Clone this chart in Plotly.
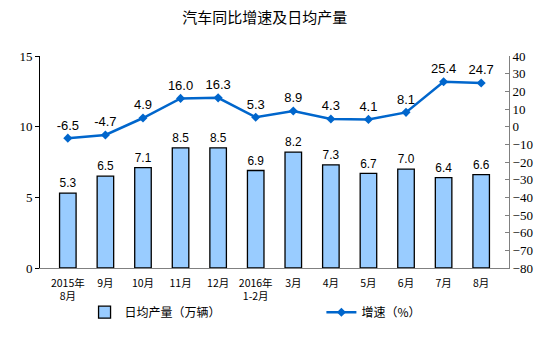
import plotly.graph_objects as go

# Monthly data: Aug 2015 – Aug 2016
months = ["2015年<br>8月", "9月", "10月", "11月", "12月", "2016年<br>1-2月",
          "3月", "4月", "5月", "6月", "7月", "8月"]
daily_output = [5.3, 6.5, 7.1, 8.5, 8.5, 6.9, 8.2, 7.3, 6.7, 7.0, 6.4, 6.6]   # 万辆
growth_rate = [-6.5, -4.7, 4.9, 16.0, 16.3, 5.3, 8.9, 4.3, 4.1, 8.1, 25.4, 24.7]  # %

left_ticks = [0, 5, 10, 15]
right_ticks = list(range(-80, 41, 10))

label_font = dict(family="Liberation Sans, Arial, sans-serif", size=13, color="#000000")
cjk = "Noto Sans CJK SC, sans-serif"
serif = "Liberation Serif, Times New Roman, serif"
legend_font = dict(family=cjk, size=12, color="#000000")

fig = go.Figure()

fig.add_trace(go.Bar(
    x=months, y=daily_output, name="日均产量（万辆）", legend="legend",
    marker=dict(color="#99CCFF", line=dict(color="#000000", width=1.3)),
    text=[f"{v:.1f}" for v in daily_output], textposition="outside",
    textfont=label_font, cliponaxis=False,
))

fig.add_trace(go.Scatter(
    x=months, y=growth_rate, name="增速（%）", yaxis="y2", legend="legend2",
    mode="lines+markers+text",
    line=dict(color="#0066CC", width=2.5),
    marker=dict(symbol="diamond", size=7, color="#0066CC"),
    text=[f"{v:.1f}" for v in growth_rate], textposition="top center",
    textfont=label_font, cliponaxis=False,
))

fig.update_layout(
    width=554, height=345,
    margin=dict(l=40, r=45, t=56, b=77),
    paper_bgcolor="white", plot_bgcolor="white",
    title=dict(text="汽车同比增速及日均产量", x=0.478, xanchor="center",
               y=0.95, yanchor="middle",
               font=dict(family=cjk, size=15, color="#000000")),
    bargap=0.56,
    showlegend=True,
    legend=dict(orientation="h", x=0.095, y=-0.14, xanchor="left", yanchor="top",
                font=legend_font, itemwidth=30, bgcolor="rgba(0,0,0,0)"),
    legend2=dict(orientation="h", x=0.6, y=-0.14, xanchor="left", yanchor="top",
                 font=legend_font, itemwidth=30, bgcolor="rgba(0,0,0,0)"),
    xaxis=dict(showline=True, linecolor="#808080", linewidth=1,
               ticks="", ticklabelstandoff=5,
               tickfont=dict(family=cjk, size=10.5, color="#000000"),
               showgrid=False),
    yaxis=dict(range=[0, 15], tickvals=left_ticks, showline=True,
               linecolor="#000000", linewidth=1, ticks="outside", ticklen=4,
               tickcolor="#000000", showgrid=False, zeroline=False,
               tickfont=dict(family=serif, size=13, color="#000000")),
    yaxis2=dict(range=[-80, 40], tickvals=right_ticks, overlaying="y", side="right",
                showline=True, linecolor="#808080", linewidth=1, ticks="inside",
                ticklen=4, tickcolor="#808080", showgrid=False, zeroline=False,
                tickfont=dict(family=serif, size=13, color="#000000")),
)

fig.write_html("out.html")
